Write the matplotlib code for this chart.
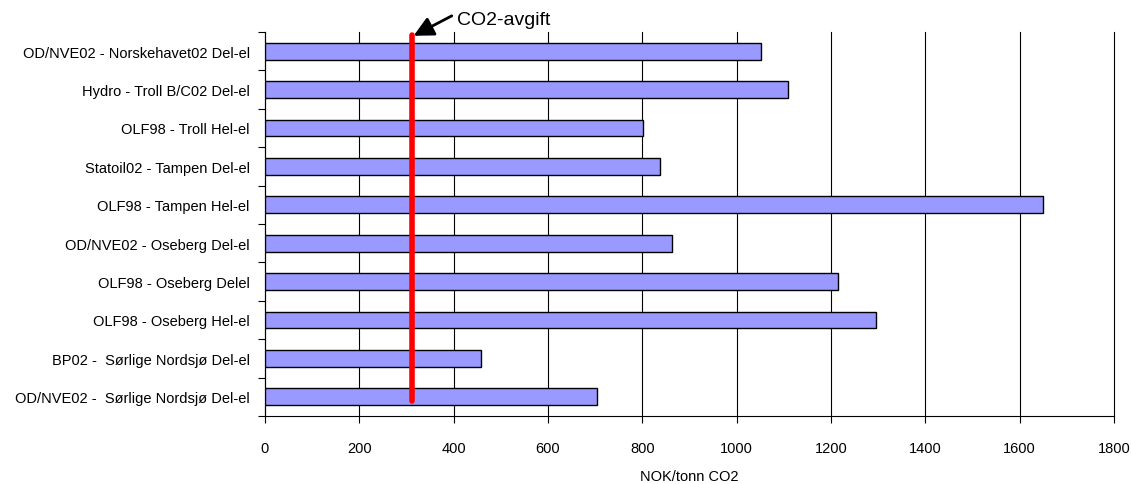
import matplotlib
matplotlib.use("Agg")
import matplotlib.pyplot as plt
import numpy as np

plt.rcParams['font.family'] = ['Liberation Sans', 'DejaVu Sans']

# categories, top to bottom
labels = ["OD/NVE02 - Norskehavet02 Del-el",
          "Hydro - Troll B/C02 Del-el",
          "OLF98 - Troll Hel-el",
          "Statoil02 - Tampen Del-el",
          "OLF98 - Tampen Hel-el",
          "OD/NVE02 - Oseberg Del-el",
          "OLF98 - Oseberg Delel",
          "OLF98 - Oseberg Hel-el",
          "BP02 -  Sørlige Nordsjø Del-el",
          "OD/NVE02 -  Sørlige Nordsjø Del-el"]
values = [1052, 1109, 801, 837, 1649, 863, 1215, 1295, 458, 704]
co2_avgift = 311
xticks = [0, 200, 400, 600, 800, 1000, 1200, 1400, 1600, 1800]

fig = plt.figure(figsize=(11.31, 4.85), dpi=100)
ax = fig.add_axes([0.2343, 0.1402, 0.7507, 0.7918])

y = np.arange(len(labels))
ax.barh(y, values, height=0.44, color='#9999FF', edgecolor='black', linewidth=1.0, zorder=3)

ax.set_xlim(0, 1800)
ax.set_ylim(len(labels) - 0.5, -0.5)

ax.set_xticks(xticks)
ax.set_xticklabels([str(v) for v in xticks], fontsize=10.5)
ax.tick_params(axis='x', direction='out', length=5, width=0.8, pad=13)
ax.xaxis.grid(True, color='black', linewidth=0.8, zorder=0)
for gl in ax.get_xgridlines():
    gl.set_clip_on(False)

ax.set_yticks(y)
ax.set_yticklabels(labels, fontsize=10.5)
ax.set_yticks(np.arange(len(labels) + 1) - 0.5, minor=True)
ax.tick_params(axis='y', which='major', length=0, pad=11)
ax.tick_params(axis='y', which='minor', direction='out', length=5, width=0.8)

ax.spines['top'].set_visible(False)
ax.spines['right'].set_visible(False)
ax.spines['left'].set_linewidth(0.8)
ax.spines['bottom'].set_linewidth(0.8)

ax.set_xlabel("NOK/tonn CO2", fontsize=10.5, labelpad=10)

# CO2-avgift marker
ax.plot([co2_avgift, co2_avgift], [-0.42, len(labels) - 0.9], color='#FF0000',
        linewidth=4, solid_capstyle='round', zorder=5)
ax.annotate('', xy=(co2_avgift + 4, -0.40), xytext=(396, -0.92),
            arrowprops=dict(arrowstyle='-|>,head_length=1.0,head_width=0.5',
                            color='black', lw=2, mutation_scale=12,
                            shrinkA=0, shrinkB=0),
            annotation_clip=False, zorder=6)
ax.text(408, -0.83, 'CO2-avgift', fontsize=14, ha='left', va='center')

fig.savefig("out.png", dpi=100)
